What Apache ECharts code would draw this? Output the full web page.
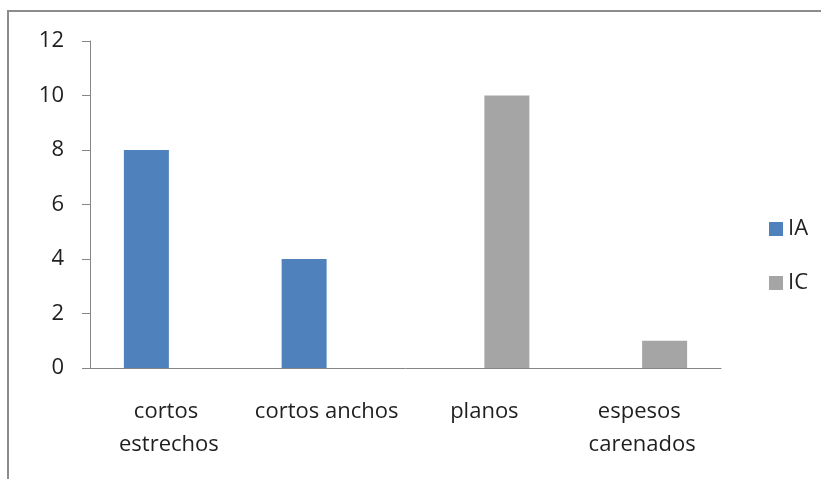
<!DOCTYPE html>
<html>
<head>
<meta charset="utf-8">
<script src="https://cdn.jsdelivr.net/npm/echarts@6/dist/echarts.min.js"></script>
<style>
  html, body { margin: 0; padding: 0; background: #fff; }
  #main { width: 821px; height: 479px; }
</style>
</head>
<body>
<div id="main"></div>
<script>
// datos de la gráfica
var categories = ['cortos estrechos', 'cortos anchos', 'planos', 'espesos carenados'];
var seriesNames = ['IA', 'IC'];
var valuesIA = [8, 4, null, null];
var valuesIC = [null, null, 10, 1];
var yTicks = [0, 2, 4, 6, 8, 10, 12];

var textFont = 'Open Sans';
var axisColor = '#868686';

var myChart = echarts.init(document.getElementById('main'));

var option = {
    animation: false,
    color: ['#4F81BD', '#A5A5A5'],
    graphic: [
        {
            type: 'rect',
            shape: { x: 8, y: 11, width: 900, height: 600 },
            style: { fill: 'none', stroke: '#8c8c8c', lineWidth: 2 }
        }
    ],
    grid: {
        left: 90,
        right: 100,
        top: 41,
        bottom: 111
    },
    legend: {
        orient: 'vertical',
        left: 764,
        top: 213,
        icon: 'rect',
        itemWidth: 14,
        itemHeight: 14,
        itemGap: 32,
        data: seriesNames,
        textStyle: { fontFamily: textFont, fontSize: 22, color: '#1f1f1f' }
    },
    xAxis: {
        type: 'category',
        data: categories,
        axisLine: { lineStyle: { color: axisColor, width: 1 } },
        axisTick: { alignWithLabel: false, length: 7, lineStyle: { color: axisColor } },
        axisLabel: {
            interval: 0,
            margin: 27,
            width: 150,
            overflow: 'break',
            lineHeight: 33,
            fontFamily: textFont,
            fontSize: 22,
            color: '#1f1f1f'
        }
    },
    yAxis: {
        type: 'value',
        min: yTicks[0],
        max: yTicks[yTicks.length - 1],
        interval: 2,
        axisLine: { show: true, lineStyle: { color: axisColor, width: 1 } },
        axisTick: { show: true, length: 8, lineStyle: { color: axisColor } },
        splitLine: { show: false },
        axisLabel: {
            margin: 26,
            fontFamily: textFont,
            fontSize: 22,
            color: '#1f1f1f'
        }
    },
    series: [
        {
            name: seriesNames[0],
            type: 'bar',
            barWidth: 45,
            barGap: '0%',
            data: valuesIA
        },
        {
            name: seriesNames[1],
            type: 'bar',
            barWidth: 45,
            barGap: '0%',
            data: valuesIC
        }
    ]
};

myChart.setOption(option);
</script>
</body>
</html>
